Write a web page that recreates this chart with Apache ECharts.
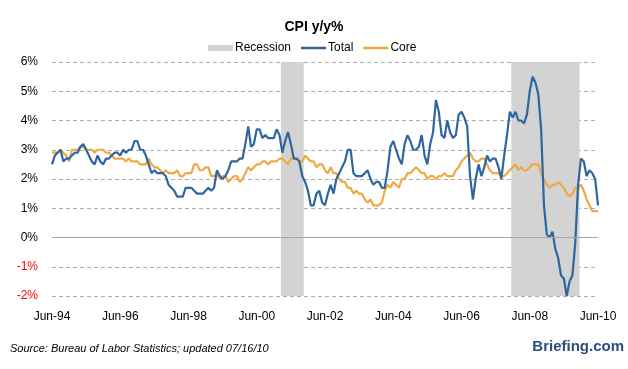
<!DOCTYPE html>
<html>
<head>
<meta charset="utf-8">
<script src="https://cdn.jsdelivr.net/npm/echarts@6/dist/echarts.min.js"></script>
<style>
html,body{margin:0;padding:0;background:#fff;}
#c{width:628px;height:369px;}
</style>
</head>
<body>
<div id="c"></div>
<script>
// Monthly data, Jun-1994 .. Jun-2010 (193 months)
var tickLabels = ['Jun-94','Jun-96','Jun-98','Jun-00','Jun-02','Jun-04','Jun-06','Jun-08','Jun-10'];

var totalCPI = [
  2.5, 2.8, 2.9, 3.0, 2.6, 2.7, 2.7,
  2.8, 2.9, 2.9, 3.1, 3.2, 3.0, 2.8, 2.6, 2.5, 2.8, 2.6, 2.5,
  2.7, 2.7, 2.8, 2.9, 2.9, 2.8, 3.0, 2.9, 3.0, 3.0, 3.3, 3.3,
  3.0, 3.0, 2.8, 2.5, 2.2, 2.3, 2.2, 2.2, 2.2, 2.1, 1.8, 1.7,
  1.6, 1.4, 1.4, 1.4, 1.7, 1.7, 1.7, 1.6, 1.5, 1.5, 1.5, 1.6,
  1.7, 1.6, 1.7, 2.3, 2.1, 2.0, 2.1, 2.3, 2.6, 2.6, 2.6, 2.7,
  2.7, 3.2, 3.8, 3.1, 3.2, 3.7, 3.7, 3.4, 3.5, 3.4, 3.4, 3.4,
  3.7, 3.5, 2.9, 3.3, 3.6, 3.2, 2.7, 2.7, 2.6, 2.1, 1.9, 1.6,
  1.1, 1.1, 1.5, 1.6, 1.2, 1.1, 1.5, 1.8, 1.5, 2.0, 2.2, 2.4,
  2.6, 3.0, 3.0, 2.2, 2.1, 2.1, 2.1, 2.2, 2.3, 2.0, 1.8, 1.9,
  1.9, 1.7, 1.7, 2.3, 3.1, 3.3, 3.0, 2.7, 2.5, 3.2, 3.5, 3.3,
  3.0, 3.0, 3.1, 3.5, 2.8, 2.5, 3.2, 3.6, 4.7, 4.3, 3.5, 3.4,
  4.0, 3.6, 3.4, 3.5, 4.2, 4.3, 4.1, 3.8, 2.1, 1.3, 2.0, 2.5,
  2.1, 2.4, 2.8, 2.6, 2.7, 2.7, 2.4, 2.0, 2.8, 3.5, 4.3, 4.1,
  4.3, 4.0, 4.0, 3.9, 4.2, 5.0, 5.5, 5.3, 4.9, 3.7, 1.1, 0.1,
  0.0, 0.2, -0.4, -0.7, -1.3, -1.4, -2.0, -1.5, -1.3, -0.2, 1.8, 2.7,
  2.6, 2.1, 2.3, 2.2, 2.0, 1.1
];

var coreCPI = [
  2.9, 2.9, 2.9, 3.0, 2.9, 2.8, 2.6,
  3.0, 3.0, 3.0, 3.1, 3.1, 3.0, 3.0, 3.0, 2.9, 3.0, 3.0, 3.0,
  2.9, 2.9, 2.8, 2.7, 2.7, 2.7, 2.7, 2.6, 2.7, 2.6, 2.6, 2.6,
  2.5, 2.5, 2.5, 2.7, 2.5, 2.4, 2.4, 2.3, 2.2, 2.3, 2.2, 2.2,
  2.2, 2.3, 2.1, 2.1, 2.2, 2.2, 2.2, 2.5, 2.5, 2.3, 2.3, 2.4,
  2.4, 2.1, 2.1, 2.2, 2.0, 2.1, 2.1, 1.9, 2.0, 2.1, 2.1, 1.9,
  2.0, 2.2, 2.4, 2.3, 2.4, 2.5, 2.5, 2.6, 2.6, 2.5, 2.6, 2.6,
  2.6, 2.7, 2.7, 2.6, 2.5, 2.7, 2.7, 2.7, 2.6, 2.6, 2.8, 2.7,
  2.6, 2.6, 2.4, 2.5, 2.5, 2.3, 2.2, 2.4, 2.2, 2.2, 2.0, 1.9,
  1.9, 1.7, 1.7, 1.5, 1.6, 1.5, 1.5, 1.3, 1.2, 1.3, 1.1, 1.1,
  1.1, 1.2, 1.6, 1.8, 1.7, 1.9, 1.8, 1.7, 2.0, 2.0, 2.2, 2.2,
  2.3, 2.4, 2.3, 2.2, 2.2, 2.0, 2.1, 2.1, 2.0, 2.1, 2.1, 2.2,
  2.1, 2.1, 2.1, 2.3, 2.4, 2.6, 2.7, 2.8, 2.9, 2.7, 2.6, 2.6,
  2.7, 2.7, 2.5, 2.3, 2.2, 2.2, 2.2, 2.1, 2.1, 2.2, 2.3, 2.4,
  2.5, 2.3, 2.4, 2.3, 2.3, 2.4, 2.5, 2.5, 2.5, 2.2, 2.0, 1.8,
  1.7, 1.8, 1.8, 1.9, 1.8, 1.7, 1.5, 1.4, 1.5, 1.7, 1.7, 1.8,
  1.6, 1.3, 1.1, 0.9, 0.9, 0.9
];

// Recession periods as month offsets from Jun-1994
var recessionStart = [80.5, 161.5];
var recessionEnd   = [88.5, 185.5];

function pairs(arr){ return arr.map(function(v,i){ return [i, v]; }); }

var areas = recessionStart.map(function(s,i){ return [{xAxis: s}, {xAxis: recessionEnd[i]}]; });

// thin-line legend icon (tiny corner dots define the bounding box)
var lineIcon = 'path://M0,0L0.05,0L0.05,0.05L0,0.05Z M0,3.2L100,3.2L100,7.8L0,7.8Z M0,10.95L0.05,10.95L0.05,11L0,11Z';

var chart = echarts.init(document.getElementById('c'), null, {renderer:'canvas'});
var font = '"Liberation Sans", Arial, sans-serif';
chart.setOption({
  animation: false,
  backgroundColor: '#fff',
  title: {
    text: 'CPI y/y%',
    left: 'center',
    top: 15,
    textStyle: {fontFamily: font, fontSize: 14, fontWeight: 'bold', color: '#000'}
  },
  legend: {
    top: 37,
    left: 203,
    itemWidth: 25,
    itemHeight: 6,
    itemGap: 10,
    symbolKeepAspect: false,
    textStyle: {fontFamily: font, fontSize: 12, color: '#000', padding:[0,0,0,-3]},
    data: [
      {name: 'Recession', icon: 'rect', itemStyle: {color: '#d3d3d3'}},
      {name: 'Total', icon: lineIcon, itemStyle: {color: '#2e67a0'}},
      {name: 'Core', icon: lineIcon, itemStyle: {color: '#f0a845'}}
    ]
  },
  grid: {left: 52, right: 30, top: 62, bottom: 73, containLabel: false},
  xAxis: {
    type: 'value',
    min: 0, max: 192, interval: 24,
    axisLine: {show: false},
    axisTick: {show: false},
    splitLine: {show: false},
    axisLabel: {
      margin: 15,
      fontFamily: font, fontSize: 12, color: '#000',
      formatter: function(v){ return tickLabels[Math.round(v/24)] || ''; }
    }
  },
  yAxis: {
    type: 'value',
    min: -2, max: 6, interval: 1,
    axisLine: {show: false},
    axisTick: {show: false},
    splitLine: {lineStyle: {color: '#b3acac', type: [4,3], width: 1}},
    axisLabel: {
      margin: 14,
      fontFamily: font, fontSize: 12, color: '#000',
      formatter: function(v){ return v < 0 ? '{n|' + v + '%}' : v + '%'; },
      rich: {n: {color: '#ff0000', fontFamily: font, fontSize: 12}}
    }
  },
  series: [
    {
      name: 'Recession',
      type: 'line',
      data: [],
      color: '#d3d3d3',
      symbol: 'none',
      z: 1,
      markArea: {
        silent: true,
        itemStyle: {color: '#d3d3d3'},
        data: areas
      },
      markLine: {
        silent: true,
        symbol: 'none',
        label: {show: false},
        lineStyle: {color: '#aaa6a6', type: 'solid', width: 1},
        data: [{yAxis: 0}]
      }
    },
    {
      name: 'Total',
      type: 'line',
      data: pairs(totalCPI),
      symbol: 'none',
      color: '#2e67a0',
      lineStyle: {width: 2.2, color: '#2e67a0'},
      z: 3
    },
    {
      name: 'Core',
      type: 'line',
      data: pairs(coreCPI),
      symbol: 'none',
      color: '#f0a845',
      lineStyle: {width: 2.2, color: '#f0a845'},
      z: 2
    }
  ],
  graphic: [
    {
      type: 'text', left: 10, top: 343,
      style: {text: 'Source: Bureau of Labor Statistics; updated 07/16/10', fontFamily: font, fontSize: 11, fontStyle: 'italic', fill: '#000'}
    },
    {
      type: 'text', right: 4, top: 339,
      style: {text: 'Briefing.com', fontFamily: font, fontSize: 15, fontWeight: 'bold', fill: '#2b4e7e'}
    }
  ]
});
</script>
</body>
</html>
